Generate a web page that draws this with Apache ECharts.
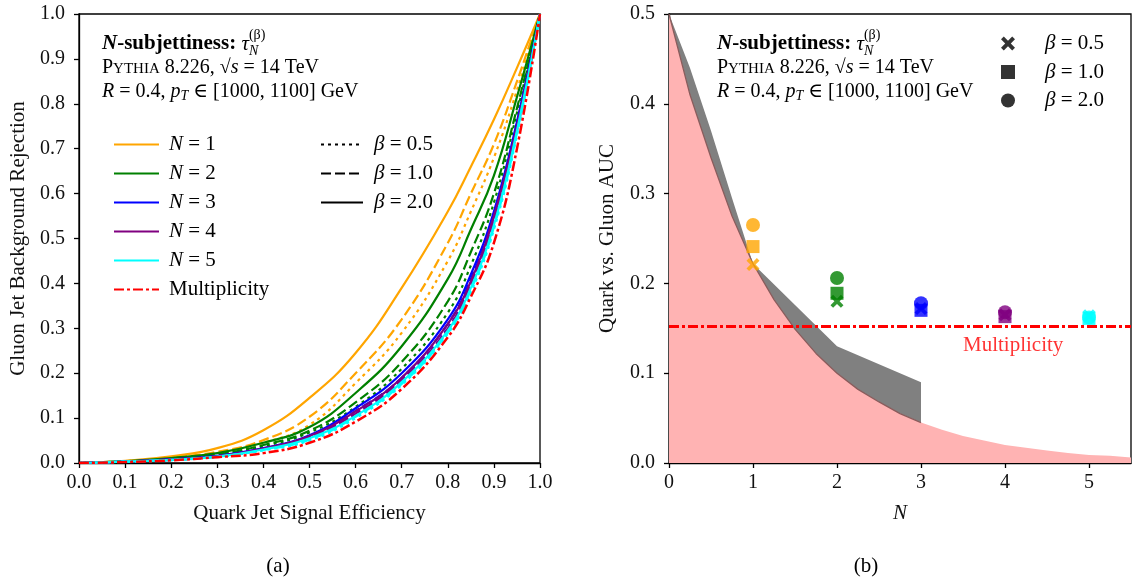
<!DOCTYPE html>
<html><head><meta charset="utf-8">
<script src="https://cdn.jsdelivr.net/npm/echarts@6/dist/echarts.min.js"></script>
<style>html,body{margin:0;padding:0;background:#fff}#c{width:1132px;height:580px}</style>
</head><body><div id="c"></div>
<script>
// ---------- Data ----------
const effX      = [0, 0.1, 0.2, 0.3, 0.4, 0.5, 0.6, 0.7, 0.8, 0.85, 0.9, 0.95, 1.0];
const rejN1b20  = [0, .005, .015, .033, .073, .145, .245, .390, .560, .660, .765, .880, 1];
const rejN1b10  = [0, .004, .012, .025, .051, .103, .200, .320, .490, .600, .710, .850, 1];
const rejN1b05  = [0, .004, .011, .022, .045, .085, .178, .290, .450, .560, .680, .830, 1];
const rejN2b20  = [0, .004, .011, .022, .045, .080, .156, .260, .410, .520, .640, .815, 1];
const rejN2b10  = [0, .003, .009, .019, .040, .072, .135, .225, .360, .470, .600, .790, 1];
const rejN2b05  = [0, .003, .009, .018, .037, .068, .125, .210, .335, .440, .580, .780, 1];
const rejN3b20  = [0, .003, .008, .016, .033, .062, .122, .200, .320, .420, .560, .760, 1];
const rejN3b10  = [0, .003, .008, .015, .032, .060, .116, .190, .310, .410, .550, .755, 1];
const rejN3b05  = [0, .003, .007, .015, .031, .058, .112, .186, .300, .400, .545, .750, 1];
const rejN4b20  = [0, .003, .008, .015, .032, .060, .115, .190, .310, .405, .550, .750, 1];
const rejN4b10  = [0, .003, .007, .015, .031, .058, .110, .185, .300, .400, .540, .745, 1];
const rejN4b05  = [0, .003, .007, .014, .030, .056, .107, .180, .295, .395, .535, .740, 1];
const rejN5b20  = [0, .003, .007, .014, .030, .055, .105, .180, .295, .390, .530, .740, 1];
const rejN5b10  = [0, .003, .007, .014, .029, .052, .103, .176, .290, .385, .525, .735, 1];
const rejN5b05  = [0, .003, .006, .014, .028, .050, .100, .174, .288, .380, .520, .730, 1];
const rejMult   = [0, .002, .006, .013, .022, .045, .092, .165, .280, .370, .490, .700, 1];

const aucN      = [1, 2, 3, 4, 5];
const aucB05    = [0.221, 0.180, 0.172, 0.165, 0.164];
const aucB10    = [0.241, 0.189, 0.170, 0.163, 0.161];
const aucB20    = [0.265, 0.206, 0.178, 0.168, 0.162];
const aucMult   = 0.152;

const boundN    = [0, 0.25, 0.5, 0.75, 1, 1.25, 1.5, 1.75, 2, 2.25, 2.5, 2.75, 3, 3.25, 3.5, 3.75, 4, 4.25, 4.5, 4.75, 5, 5.25, 5.5];
const boundAUC  = [0.5, 0.41, 0.34, 0.275, 0.222, 0.182, 0.149, 0.122, 0.100, 0.082, 0.068, 0.055, 0.045, 0.037, 0.030, 0.025, 0.020, 0.017, 0.014, 0.011, 0.009, 0.008, 0.006];
const bandN     = [0, 0.25, 0.5, 0.75, 1, 2, 3];
const bandUpper = [0.5, 0.44, 0.37, 0.295, 0.222, 0.13, 0.09];

const xTicksLeft  = [0, 0.1, 0.2, 0.3, 0.4, 0.5, 0.6, 0.7, 0.8, 0.9, 1.0];
const xTicksRight = [0, 1, 2, 3, 4, 5];

// ---------- Styles ----------
const FONT = "'Liberation Serif','DejaVu Serif',serif";
const nColors = ['#FFA500', '#008000', '#0000FF', '#800080', '#00FFFF'];
const RED = '#FF0000';
const LW = 2.2;
const dashOf = {'2.0': 'solid', '1.0': [10, 4], '0.5': [3, 4]};
const DASHDOT = [10, 3, 3, 3];
const XPATH = 'path://M0,2 L2,0 L5,3 L8,0 L10,2 L7,5 L10,8 L8,10 L5,7 L2,10 L0,8 L3,5 Z';

const rejTable = {
  1: {'2.0': rejN1b20, '1.0': rejN1b10, '0.5': rejN1b05},
  2: {'2.0': rejN2b20, '1.0': rejN2b10, '0.5': rejN2b05},
  3: {'2.0': rejN3b20, '1.0': rejN3b10, '0.5': rejN3b05},
  4: {'2.0': rejN4b20, '1.0': rejN4b10, '0.5': rejN4b05},
  5: {'2.0': rejN5b20, '1.0': rejN5b10, '0.5': rejN5b05}
};
const pairs = (xs, ys) => xs.map((x, i) => [x, ys[i]]);

const series = [];
[1,2,3,4,5].forEach(n => {
  ['2.0','1.0','0.5'].forEach(b => {
    series.push({
      type: 'line', name: 'N = ' + n, xAxisIndex: 0, yAxisIndex: 0,
      data: pairs(effX, rejTable[n][b]), symbol: 'none', smooth: 0.45,
      color: nColors[n-1],
      lineStyle: {color: nColors[n-1], width: LW, type: dashOf[b], cap: 'butt'},
      z: 3, animation: false, silent: true
    });
  });
});
series.push({
  type: 'line', name: 'Multiplicity', xAxisIndex: 0, yAxisIndex: 0,
  data: pairs(effX, rejMult), symbol: 'none', smooth: 0.45,
  color: RED, lineStyle: {color: RED, width: 2.5, type: DASHDOT}, z: 4, animation: false
});
['0.5','1.0','2.0'].forEach(b => {
  series.push({type: 'line', name: 'β = ' + b, xAxisIndex: 0, yAxisIndex: 0, data: [],
    symbol: 'none', color: '#000', lineStyle: {color: '#000', width: LW, type: dashOf[b]}});
});

// Right panel
series.push({
  type: 'line', name: 'bound', xAxisIndex: 1, yAxisIndex: 1,
  data: pairs(boundN, boundAUC), symbol: 'none',
  lineStyle: {width: 0}, areaStyle: {color: '#FFB3B3', opacity: 1}, z: 1, animation: false
});
series.push({
  type: 'custom', name: 'band', xAxisIndex: 1, yAxisIndex: 1, data: [[0, 0]], z: 2, animation: false,
  renderItem: function (params, api) {
    const pts = [];
    bandN.forEach((n, i) => pts.push(api.coord([n, bandUpper[i]])));
    for (let i = boundN.length - 1; i >= 0; i--) {
      if (boundN[i] <= 3) pts.push(api.coord([boundN[i], boundAUC[i]]));
    }
    return {type: 'polygon', shape: {points: pts}, style: {fill: '#808080'}};
  }
});
const edgeCount = boundN.filter(n => n <= 3).length;
series.push({
  type: 'line', name: 'boundEdge', xAxisIndex: 1, yAxisIndex: 1,
  data: pairs(boundN.slice(0, edgeCount), boundAUC.slice(0, edgeCount)),
  symbol: 'none', lineStyle: {color: '#8a5c5c', width: 1.3}, z: 3, animation: false
});
series.push({
  type: 'line', name: 'multLine', xAxisIndex: 1, yAxisIndex: 1,
  data: [[0, aucMult], [5.5, aucMult]], symbol: 'none',
  lineStyle: {color: RED, width: 2.8, type: DASHDOT}, z: 4, animation: false
});
series.push({
  type: 'scatter', name: 'multLabel', xAxisIndex: 1, yAxisIndex: 1,
  data: [[3.5, 0.131]], symbolSize: 0, z: 5,
  label: {show: true, position: 'right', distance: 0, formatter: 'Multiplicity',
          color: RED, fontFamily: FONT, fontSize: 21}
});
const mk = (vals, symbol, size, name) => ({
  type: 'scatter', name: name, xAxisIndex: 1, yAxisIndex: 1, symbol: symbol, symbolSize: size,
  data: aucN.map((n, i) => ({value: [n, vals[i]], itemStyle: {color: nColors[i]}})), z: 6, animation: false
});
series.push(mk(aucB05, XPATH, 13, 'aucX'));
series.push(mk(aucB10, 'rect', 13, 'aucS'));
series.push(mk(aucB20, 'circle', 14, 'aucC'));
[['m05', XPATH], ['m10', 'rect'], ['m20', 'circle']].forEach(([nm, sym]) => {
  series.push({type: 'scatter', name: nm, xAxisIndex: 1, yAxisIndex: 1, data: [], symbol: sym, color: '#000'});
});

// ---------- Text helpers ----------
const mctx = document.createElement('canvas').getContext('2d');
function tw(text, font) { mctx.font = font; return mctx.measureText(text).width; }
function fontStr(t) { return (t.it ? 'italic ' : '') + (t.b ? 'bold ' : '') + t.s + 'px ' + FONT; }
function textRun(x, y, tokens) {
  const els = [];
  let cx = x;
  tokens.forEach(t => {
    const f = fontStr(t);
    els.push({type: 'text', x: cx + (t.dx || 0), y: y + (t.dy || 0), silent: true,
      style: {text: t.t, font: f, fill: t.c || '#000', verticalAlign: 'middle', align: 'left'}});
    if (!t.noAdv) cx += tw(t.t, f) + (t.gap || 0);
  });
  return els;
}
function infoBlock(x) {
  return [].concat(
    textRun(x, 44, [
      {t: 'N', s: 21, b: 1, it: 1}, {t: '-subjettiness: ', s: 21, b: 1},
      {t: 'τ', s: 21, it: 1},
      {t: '(β)', s: 14, dy: -9, noAdv: 1}, {t: 'N', s: 14, it: 1, dy: 7}
    ]),
    textRun(x, 68, [
      {t: 'P', s: 20}, {t: 'YTHIA', s: 15, dy: 1}, {t: ' 8.226, √', s: 20}, {t: 's', s: 20, it: 1},
      {t: ' = 14 TeV', s: 20}
    ]),
    textRun(x, 92, [
      {t: 'R', s: 20, it: 1}, {t: ' = 0.4, ', s: 20}, {t: 'p', s: 20, it: 1}, {t: 'T', s: 14, it: 1, dy: 4},
      {t: ' ∈ [1000, 1100] GeV', s: 20}
    ])
  );
}

const axisCommon = {
  axisLine: {show: true, onZero: false, lineStyle: {color: '#000', width: 1.3}},
  axisTick: {show: true, inside: false, length: 5, lineStyle: {color: '#000', width: 1.3}},
  splitLine: {show: false},
  axisLabel: {color: '#111', fontFamily: FONT, fontSize: 20},
  nameTextStyle: {color: '#111', fontFamily: FONT, fontSize: 21},
  nameLocation: 'middle'
};
const hiddenMarker = {color: 'rgba(0,0,0,0)', borderWidth: 0, opacity: 0};

const option = {
  backgroundColor: '#fff',
  animation: false,
  grid: [
    {left: 79, top: 14, width: 461, height: 449, show: true, borderColor: '#000', borderWidth: 1.3, containLabel: false},
    {left: 669, top: 14, width: 462, height: 449, show: true, borderColor: '#000', borderWidth: 1.3, containLabel: false}
  ],
  xAxis: [
    Object.assign({}, axisCommon, {type: 'value', gridIndex: 0, min: 0, max: 1, interval: 0.1,
      name: 'Quark Jet Signal Efficiency', nameGap: 40,
      axisLabel: Object.assign({}, axisCommon.axisLabel, {margin: 10, formatter: v => v.toFixed(1),
        customValues: xTicksLeft}),
      axisTick: Object.assign({}, axisCommon.axisTick, {customValues: xTicksLeft})}),
    Object.assign({}, axisCommon, {type: 'value', gridIndex: 1, min: 0, max: 5.5, interval: 1,
      name: 'N', nameGap: 40,
      nameTextStyle: Object.assign({}, axisCommon.nameTextStyle, {fontStyle: 'italic'}),
      axisLabel: Object.assign({}, axisCommon.axisLabel, {margin: 10, formatter: v => String(v),
        customValues: xTicksRight}),
      axisTick: Object.assign({}, axisCommon.axisTick, {customValues: xTicksRight})})
  ],
  yAxis: [
    Object.assign({}, axisCommon, {type: 'value', gridIndex: 0, min: 0, max: 1, interval: 0.1,
      name: 'Gluon Jet Background Rejection', nameGap: 50,
      axisLabel: Object.assign({}, axisCommon.axisLabel, {margin: 14, formatter: v => v.toFixed(1)})}),
    Object.assign({}, axisCommon, {type: 'value', gridIndex: 1, min: 0, max: 0.5, interval: 0.1,
      name: 'Quark vs. Gluon AUC', nameGap: 51,
      axisLabel: Object.assign({}, axisCommon.axisLabel, {margin: 14, formatter: v => v.toFixed(1)})})
  ],
  legend: [
    {data: ['N = 1','N = 2','N = 3','N = 4','N = 5','Multiplicity'], orient: 'vertical',
     left: 108, top: 129, itemWidth: 45, itemHeight: 14, itemGap: 8, selectedMode: false,
     itemStyle: hiddenMarker,
     textStyle: {color: '#000', fontFamily: FONT, fontSize: 21, lineHeight: 20, padding: [0,0,0,5],
       rich: {i: {fontStyle: 'italic', fontFamily: FONT, fontSize: 21, color: '#000'}}},
     formatter: nm => nm === 'Multiplicity' ? nm : '{i|N} = ' + nm.slice(4)},
    {data: ['β = 0.5','β = 1.0','β = 2.0'], orient: 'vertical',
     left: 315, top: 129, itemWidth: 42, itemHeight: 14, itemGap: 8, selectedMode: false,
     itemStyle: hiddenMarker,
     textStyle: {color: '#000', fontFamily: FONT, fontSize: 21, lineHeight: 20, padding: [0,0,0,6],
       rich: {i: {fontStyle: 'italic', fontFamily: FONT, fontSize: 21, color: '#000'}}},
     formatter: nm => '{i|β} = ' + nm.slice(4)},
    {data: ['m05','m10','m20'], orient: 'vertical',
     left: 996, top: 28, itemWidth: 14, itemHeight: 14, itemGap: 7.5, selectedMode: false,
     textStyle: {color: '#000', fontFamily: FONT, fontSize: 21, lineHeight: 20, padding: [0,0,0,25],
       rich: {i: {fontStyle: 'italic', fontFamily: FONT, fontSize: 21, color: '#000'}}},
     formatter: nm => '{i|β} = ' + ({m05: '0.5', m10: '1.0', m20: '2.0'})[nm]}
  ],
  graphic: [].concat(
    infoBlock(102),
    infoBlock(717),
    [
      {type: 'text', x: 278, y: 566, silent: true, style: {text: '(a)', font: '21px ' + FONT, fill: '#000', align: 'center', verticalAlign: 'middle'}},
      {type: 'text', x: 866, y: 566, silent: true, style: {text: '(b)', font: '21px ' + FONT, fill: '#000', align: 'center', verticalAlign: 'middle'}}
    ]
  ),
  series: series
};

const chart = echarts.init(document.getElementById('c'), null, {renderer: 'canvas'});
chart.setOption(option);
</script>
</body></html>
